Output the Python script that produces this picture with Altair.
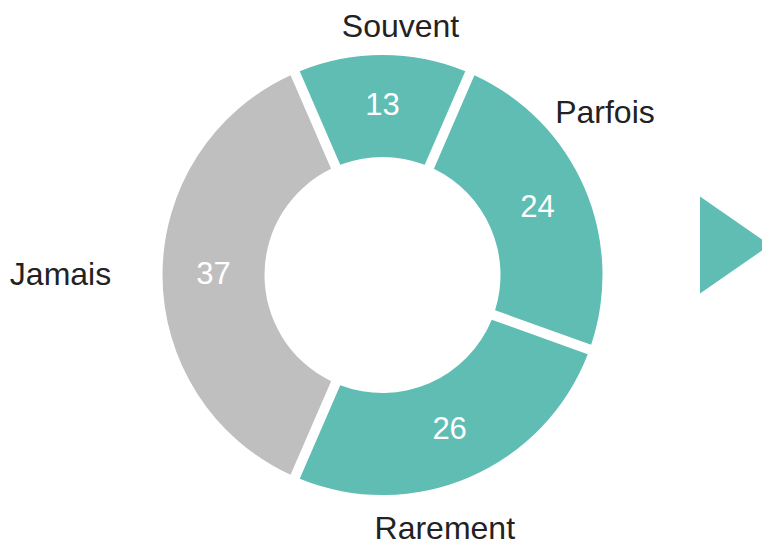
import math
import altair as alt
import pandas as pd

categories = ["Souvent", "Parfois", "Rarement", "Jamais"]
values = [13, 24, 26, 37]
groups = ["oui", "oui", "oui", "non"]

df = pd.DataFrame({"cat": categories, "value": values, "grp": groups, "order": list(range(len(categories)))})
df["mid"] = df["value"].cumsum() - df["value"] / 2

TEAL = "#5FBDB4"
GRAY = "#BFBFBF"
FONT = "Liberation Sans"

start = -math.radians(360 * values[0] / 2 / sum(values))
theta_scale = alt.Scale(domain=[0, sum(values)], range=[start, start + 2 * math.pi])
color_scale = alt.Scale(domain=["oui", "non"], range=[TEAL, GRAY])

CX, CY = 374.5, 267

base = alt.Chart(df)

arcs = base.mark_arc(innerRadius=118, outerRadius=220, padAngle=0.04).encode(
    theta=alt.Theta("value:Q", stack=True, scale=theta_scale),
    order=alt.Order("order:Q"),
    color=alt.Color("grp:N", scale=color_scale, legend=None),
    x=alt.value(CX),
    y=alt.value(CY),
)

numbers = base.mark_text(radius=169, fontSize=31, color="white", font=FONT,
                         align="center", baseline="middle").encode(
    theta=alt.Theta("mid:Q", stack=False, scale=theta_scale),
    text=alt.Text("value:Q"),
    x=alt.value(CX),
    y=alt.value(CY),
)

label_offsets = {
    "Souvent": (18, 2),
    "Parfois": (-7, -63),
    "Rarement": (-37, 25),
    "Jamais": (-72, 0),
}

label_layers = []
for cat, (dx, dy) in label_offsets.items():
    label_layers.append(
        base.transform_filter(alt.datum.cat == cat).mark_text(
            radius=250, fontSize=32, color="#222222", font=FONT,
            align="center", baseline="middle", dx=dx, dy=dy
        ).encode(
            theta=alt.Theta("mid:Q", stack=False, scale=theta_scale),
            text=alt.Text("cat:N"),
            x=alt.value(CX),
            y=alt.value(CY),
        )
    )

tri = alt.Chart(pd.DataFrame({"k": [0]})).mark_point(
    shape="M -1 -1 L 0.443 0 L -1 1 Z", size=9409, filled=True, opacity=1,
    color=TEAL, strokeWidth=0
).encode(x=alt.value(740.5), y=alt.value(237))

chart = alt.layer(arcs, numbers, *label_layers, tri).properties(
    width=754, height=539, autosize=alt.AutoSizeParams(type="none"), padding=0,
    background="white"
).configure_view(stroke=None)

chart.save("out.html", embed_options={"renderer": "svg", "actions": False})
